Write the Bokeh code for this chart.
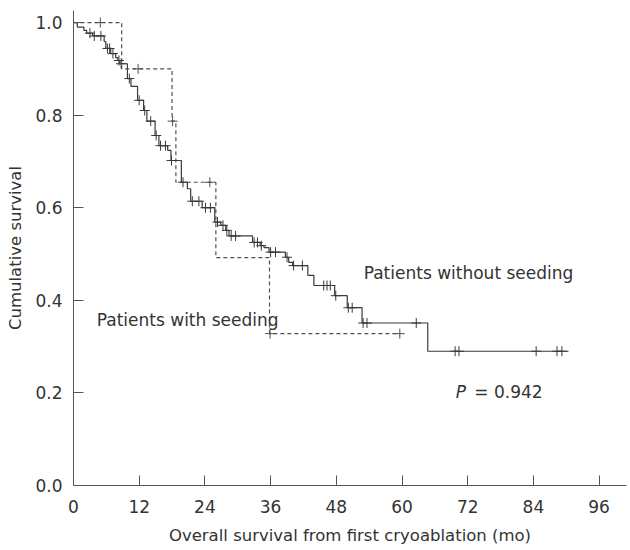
from bokeh.plotting import figure
from bokeh.models import Range1d, FixedTicker, PrintfTickFormatter, Label
from bokeh.embed import file_html
from bokeh.resources import INLINE

# ---- data ----
# Patients without seeding: event times (mo) and survival after each step
time_without = [0, 0.7, 1.9, 2.4, 3.5, 5.6, 5.9, 6.8, 7.7, 8.1, 8.45, 9.85, 10.5, 11.7,
                12.8, 13.4, 14.9, 15.6, 17.2, 17.8, 19.7, 20.8, 21.4, 23.5, 25.8, 26.9,
                27.8, 28.4, 32.7, 34.1, 34.8, 35.7, 38.7, 39.3, 40.0, 42.8, 43.9, 47.7,
                50.0, 52.7, 64.7, 90.4]
surv_without = [1.0, 0.990, 0.983, 0.977, 0.971, 0.959, 0.944, 0.933, 0.924, 0.918, 0.911,
                0.879, 0.862, 0.832, 0.810, 0.787, 0.756, 0.734, 0.724, 0.702, 0.655, 0.641,
                0.614, 0.600, 0.569, 0.562, 0.551, 0.539, 0.525, 0.518, 0.514, 0.504, 0.493,
                0.482, 0.475, 0.454, 0.432, 0.410, 0.384, 0.351, 0.290, 0.290]
censor_without = [3.0, 3.8, 5.0, 6.2, 6.6, 7.2, 8.3, 8.7, 10.2, 12.0, 13.0, 14.1, 15.1,
                  15.9, 16.8, 17.9, 20.0, 21.7, 22.9, 24.1, 25.0, 26.3, 27.3, 28.0, 28.8,
                  29.6, 33.0, 33.6, 34.3, 36.0, 36.9, 39.0, 40.2, 41.8, 45.7, 46.3, 46.9,
                  47.9, 50.2, 50.9, 52.9, 53.6, 62.6, 69.7, 70.4, 84.5, 88.3, 89.2]

# Patients with seeding
time_with = [0, 8.8, 18.0, 18.7, 26.0, 35.8, 59.6]
surv_with = [1.0, 0.900, 0.787, 0.655, 0.492, 0.328, 0.328]
censor_with = [4.9, 11.8, 18.1, 24.9, 35.9, 59.6]

x_ticks = [0, 12, 24, 36, 48, 60, 72, 84, 96]
y_ticks = [0.0, 0.2, 0.4, 0.6, 0.8, 1.0]


def step_value(times, survs, t):
    val = survs[0]
    for ti, si in zip(times, survs):
        if ti <= t:
            val = si
    return val


FONT = "DejaVu Sans"
TXT = "#333333"
LINE = "#3a3a3a"

p = figure(width=628, height=548, x_range=Range1d(0, 101.0), y_range=Range1d(0, 1.026),
           output_backend="svg", toolbar_location=None,
           min_border_left=73, min_border_right=2, min_border_top=10, min_border_bottom=63)
p.outline_line_color = None
p.background_fill_color = "white"
p.border_fill_color = "white"
p.xgrid.visible = False
p.ygrid.visible = False

for ax in (p.xaxis[0], p.yaxis[0]):
    ax.axis_line_color = "#555555"
    ax.major_tick_line_color = "#555555"
    ax.major_tick_in = 10
    ax.major_tick_out = 0
    ax.minor_tick_line_color = None
    ax.major_label_text_font = FONT
    ax.major_label_text_font_size = "17px"
    ax.major_label_text_color = TXT
    ax.axis_label_text_font = FONT
    ax.axis_label_text_font_size = "16.5px"
    ax.axis_label_text_font_style = "normal"
    ax.axis_label_text_color = TXT

p.xaxis.ticker = FixedTicker(ticks=x_ticks)
p.yaxis.ticker = FixedTicker(ticks=y_ticks)
p.yaxis.formatter = PrintfTickFormatter(format="%.1f")
p.xaxis.axis_label = "Overall survival from first cryoablation (mo)"
p.yaxis.axis_label = "Cumulative survival"
p.xaxis.major_label_standoff = 14
p.xaxis.axis_label_standoff = 10
p.yaxis.major_label_standoff = 11
p.yaxis.axis_label_standoff = 7

# step curves
p.step(time_without, surv_without, mode="after", line_color=LINE, line_width=1.2)
p.step(time_with, surv_with, mode="after", line_color="#505050", line_width=1.2,
       line_dash="4 3")

# censor marks
cw_y = [step_value(time_without, surv_without, t) for t in censor_without]
cs_y = [step_value(time_with, surv_with, t) for t in censor_with]
p.scatter(censor_without, cw_y, marker="cross", size=10, line_color=LINE, line_width=1)
p.scatter(censor_with, cs_y, marker="cross", size=10, line_color="#505050", line_width=1)


def lab(x, y, text, style="normal"):
    p.add_layout(Label(x=x, y=y, text=text, text_font=FONT, text_font_size="17px",
                       text_color=TXT, text_baseline="middle", text_align="left",
                       text_font_style=style))


lab(53.0, 0.46, "Patients without seeding")
lab(4.25, 0.3585, "Patients with seeding")
lab(69.8, 0.203, "P", "italic")
lab(73.2, 0.203, "= 0.942")

open("out.html", "w").write(file_html(p, INLINE))
